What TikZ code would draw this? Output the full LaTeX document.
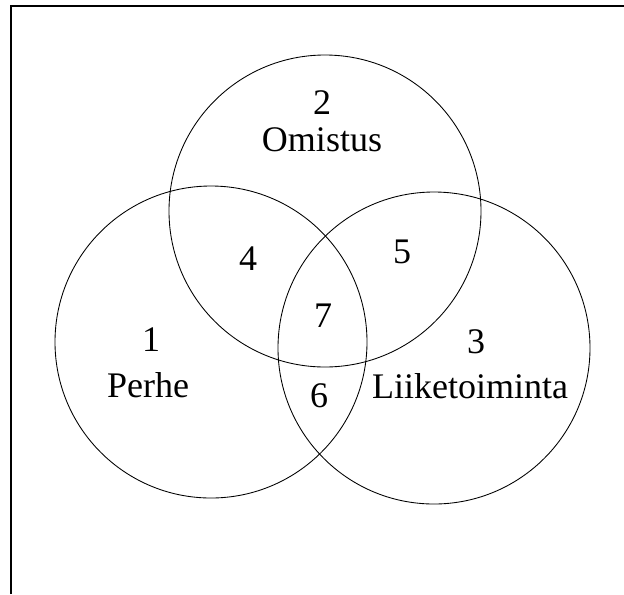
\documentclass[tikz,border=0pt]{standalone}
\usepackage{fontspec}
\setmainfont{Liberation Serif}
\usepackage{tikz}

\begin{document}
\begin{tikzpicture}[x=0.75pt,y=-0.75pt,
  set/.style={draw, circle, line width=0.65pt, inner sep=0pt, minimum size=234pt},
  lbl/.style={anchor=base, inner sep=0pt, font=\fontsize{27}{32}\selectfont}]
\useasboundingbox (0,0) rectangle (624,594);
% frame, only left and top edges
\coordinate (tl) at (11,6);
\coordinate (tr) at (624,6);
\coordinate (bl) at (11,594);
\draw [line width=0.8pt] (bl) -- (tl) -- (tr);
% the three sets
\node[set] (own) at (325,211) {};
\node[set] (fam) at (211,342) {};
\node[set] (bus) at (434,348) {};
% numbers and names
\node[lbl] (n2) at (322,114) {2};
\node[lbl] (omistus) at (322,151) {Omistus};
\node[lbl] (n4) at (248,270) {4};
\node[lbl] (n5) at (402,263) {5};
\node[lbl] (n7) at (323,327) {7};
\node[lbl] (n1) at (151,351) {1};
\node[lbl] (n3) at (476,353) {3};
\node[lbl] (perhe) at (148,397) {Perhe};
\node[lbl] (n6) at (319,407) {6};
\node[lbl] (liike) at (470,398) {Liiketoiminta};
\end{tikzpicture}
\end{document}
